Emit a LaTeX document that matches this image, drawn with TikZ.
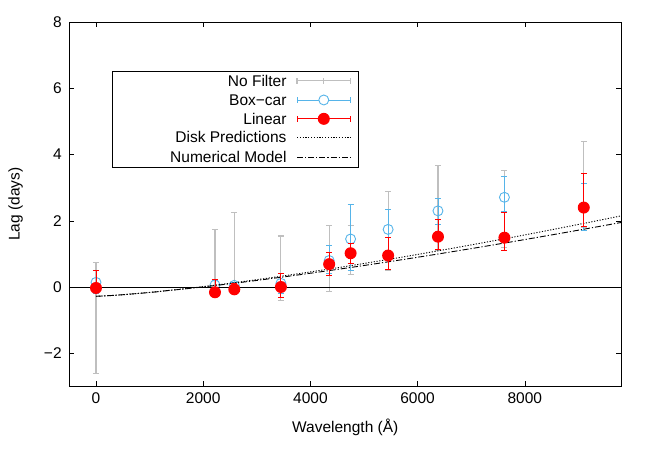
\documentclass[tikz,border=0pt]{standalone}
\usepackage{fontspec}
\setmainfont{Liberation Sans}
\usetikzlibrary{positioning}
\definecolor{boxblue}{RGB}{86,180,233}

\newcommand{\errbar}[4]{% style, x, lo, hi
  \draw[#1] (#2,#3) -- (#2,#4)
    ([xshift=-3pt]#2,#3) -- ([xshift=3pt]#2,#3)
    ([xshift=-3pt]#2,#4) -- ([xshift=3pt]#2,#4);}

\begin{document}
\begin{tikzpicture}[
    x=53.6pt, y=33.1pt,
    every node/.style={font=\fontsize{15.5}{18}\selectfont},
    errgray/.style={draw=black!25, line width=1.1pt},
    errblue/.style={draw=boxblue, line width=0.9pt},
    errred/.style={draw=red, line width=0.9pt},
    diskline/.style={black, line width=0.9pt, dash pattern=on 1.2pt off 1.6pt},
    modelline/.style={black, line width=0.9pt, dash pattern=on 6pt off 2pt on 1.2pt off 2pt},
]
\useasboundingbox (-96pt,-178pt) rectangle (568pt,287pt);

% Error bars
\foreach \xx/\lo/\hi in {0/-2.62/0.73, 2.22/-0.2/1.73, 2.58/-0.1/2.26, 3.45/-0.42/1.54,
    4.35/-0.14/1.86, 4.75/0.38/1.87, 5.45/0.5/2.88, 6.38/1.1/3.66, 7.62/1.2/3.53, 9.1/1.8/4.39}
  {\errbar{errgray}{\xx}{\lo}{\hi}}
\foreach \xx/\yy/\lo/\hi in {0/0.14/-0.2/0.49, 2.22/0.06/-0.1/0.2, 2.58/0.05/-0.05/0.15,
    3.45/0.11/-0.2/0.4, 4.35/0.8/0.4/1.25, 4.75/1.45/0.5/2.5, 5.45/1.74/1.1/2.35,
    6.38/2.3/1.9/2.68, 7.62/2.71/2.27/3.35, 9.1/2.4/1.7/3.13}
  {\errbar{errblue}{\xx}{\lo}{\hi}
   \draw[errblue] (\xx,\yy) circle (5pt);}

% Zero line and model curves
\draw[black, line width=0.7pt] (-0.5,0) -- (9.8,0);
\draw[diskline] plot[domain=0:9.8, samples=60] (\x,{-0.28+2.43*(\x/9.8)^(4/3)});
\draw[modelline] plot[domain=0:9.8, samples=60] (\x,{-0.28+2.23*(\x/9.8)^1.3});

\foreach \xx/\yy/\lo/\hi in {0/-0.03/-0.15/0.49, 2.22/-0.16/-0.3/0.23, 2.58/-0.07/-0.2/0.1,
    3.45/0/-0.32/0.41, 4.35/0.69/0.34/1.05, 4.75/1.02/0.72/1.32, 5.45/0.95/0.54/1.49,
    6.38/1.52/1.14/2.05, 7.62/1.49/1.1/2.24, 9.1/2.4/1.84/3.43}
  {\errbar{errred}{\xx}{\lo}{\hi}
   \fill[red] (\xx,\yy) circle (6pt);}

% Axes
\draw[black, line width=0.9pt] (-0.5,-3) rectangle (9.8,8);
\foreach \t in {0,2,4,6,8} {
  \draw (\t,-3) -- ++(0,5pt) (\t,8) -- ++(0,-5pt);
  \node[below=3pt] (xt\t) at (\t,-3) {\pgfmathparse{int(\t*1000)}\pgfmathresult};}
\foreach \t/\lab in {-2/−2,0/0,2/2,4/4,6/6,8/8} {
  \draw (-0.5,\t) -- ++(5pt,0) (9.8,\t) -- ++(-5pt,0);
  \node[left=4pt] (yt\t) at (-0.5,\t) {\lab};}
\node[below=29pt] (xlab) at (4.65,-3) {Wavelength (Å)};
\node[rotate=90] (ylab) at (-1.5,2.5) {Lag (days)};

% Legend
\draw[black, line width=0.7pt] (0.3,3.6) rectangle (4.89,6.5);
\node[anchor=east] (lnof) at (3.62,6.23) {No Filter};
\node[anchor=east] (lbox) at (3.62,5.65) {Box−car};
\node[anchor=east] (llin) at (3.62,5.08) {Linear};
\node[anchor=east] (ldsk) at (3.62,4.53) {Disk Predictions};
\node[anchor=east] (lnum) at (3.62,3.92) {Numerical Model};
\draw[errgray] (3.75,6.23) -- (4.75,6.23) ([yshift=-3pt]3.75,6.23) -- ++(0,6pt)
  ([yshift=-3pt]4.75,6.23) -- ++(0,6pt) ([yshift=-3pt]4.25,6.23) -- ++(0,6pt);
\draw[errblue] (3.75,5.65) -- (4.75,5.65) ([yshift=-3pt]3.75,5.65) -- ++(0,6pt)
  ([yshift=-3pt]4.75,5.65) -- ++(0,6pt);
\draw[errblue, fill=white] (4.25,5.65) circle (5pt);
\draw[errred] (3.75,5.08) -- (4.75,5.08) ([yshift=-3pt]3.75,5.08) -- ++(0,6pt)
  ([yshift=-3pt]4.75,5.08) -- ++(0,6pt);
\fill[red] (4.25,5.08) circle (6pt);
\draw[diskline] (3.75,4.53) -- (4.75,4.53);
\draw[modelline] (3.75,3.92) -- (4.75,3.92);
\end{tikzpicture}
\end{document}
